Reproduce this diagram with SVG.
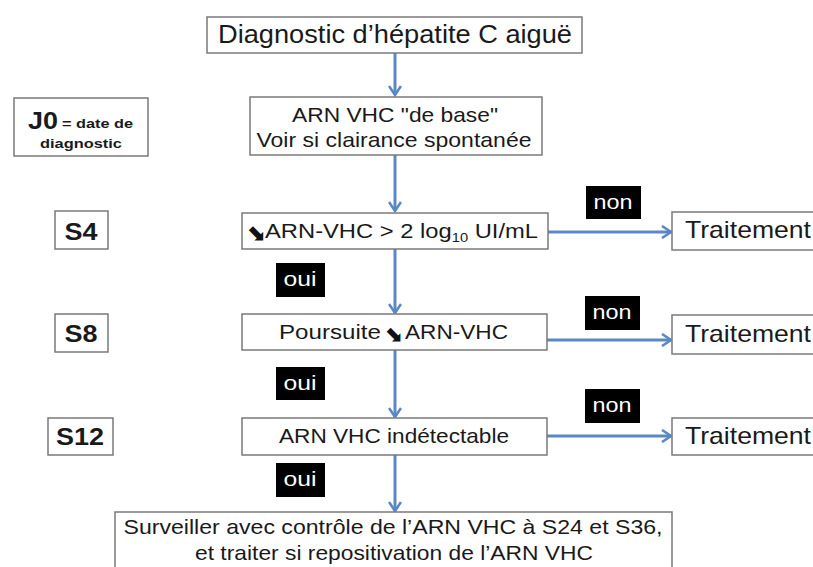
<svg xmlns="http://www.w3.org/2000/svg" width="813" height="567" viewBox="0 0 813 567">
<defs>
<style>
.box{fill:#fff;stroke:#7a7a7a;stroke-width:1.5}
.tag{fill:#000}
.t{font-family:"Liberation Sans Narrow","Liberation Sans",Arial,sans-serif;fill:#1a1a1a}
.b{font-weight:bold}
.w{fill:#fff;font-family:"Liberation Sans Narrow","Liberation Sans",Arial,sans-serif}
.c{stroke:#5b88c4;stroke-width:3;fill:none}
.ar{font-family:"DejaVu Sans",sans-serif;font-weight:bold;fill:#111}
</style>
<marker id="ah" markerWidth="14" markerHeight="14" refX="11" refY="7" orient="auto" markerUnits="userSpaceOnUse">
<polyline points="2,1 11,7 2,13" fill="none" stroke="#5b88c4" stroke-width="2.6"/>
</marker>
</defs>
<rect width="813" height="567" fill="#fff"/>
<g id="connectors">
<line class="c" x1="395" y1="53" x2="395" y2="95" marker-end="url(#ah)"/>
<line class="c" x1="395" y1="155" x2="395" y2="211" marker-end="url(#ah)"/>
<line class="c" x1="395" y1="249" x2="395" y2="313" marker-end="url(#ah)"/>
<line class="c" x1="395" y1="350" x2="395" y2="417" marker-end="url(#ah)"/>
<line class="c" x1="395" y1="455" x2="395" y2="511" marker-end="url(#ah)"/>
<line class="c" x1="548" y1="232" x2="671" y2="232" marker-end="url(#ah)"/>
<line class="c" x1="547" y1="340" x2="671" y2="340" marker-end="url(#ah)"/>
<line class="c" x1="547" y1="436" x2="671" y2="436" marker-end="url(#ah)"/>
</g>
<g id="diag">
<rect class="box" x="207" y="17" width="375" height="36"/>
<text class="t" x="395" y="43" font-size="25" text-anchor="middle" textLength="354" lengthAdjust="spacingAndGlyphs">Diagnostic d’hépatite C aiguë</text>
</g>
<g id="j0">
<rect class="box" x="14" y="98" width="134" height="58"/>
<text class="t b" x="28" y="129" font-size="24" textLength="30" lengthAdjust="spacingAndGlyphs">J0</text>
<text class="t b" x="62" y="128" font-size="13" textLength="71" lengthAdjust="spacingAndGlyphs">= date de</text>
<text class="t b" x="81" y="148" font-size="13" text-anchor="middle" textLength="82" lengthAdjust="spacingAndGlyphs">diagnostic</text>
</g>
<g id="base">
<rect class="box" x="250" y="97" width="292" height="58"/>
<text class="t" x="395" y="122" font-size="21" text-anchor="middle" textLength="206" lengthAdjust="spacingAndGlyphs">ARN VHC "de base"</text>
<text class="t" x="394" y="147" font-size="21" text-anchor="middle" textLength="275" lengthAdjust="spacingAndGlyphs">Voir si clairance spontanée</text>
</g>
<g id="s4">
<rect class="box" x="55" y="211" width="53" height="38"/>
<text class="t b" x="81" y="240" font-size="24" text-anchor="middle" textLength="33" lengthAdjust="spacingAndGlyphs">S4</text>
</g>
<g id="cond4">
<rect class="box" x="242" y="213" width="306" height="36"/>
<text class="ar" x="246" y="240" font-size="23">⬊</text>
<text class="t" x="265" y="238" font-size="21" textLength="273" lengthAdjust="spacingAndGlyphs">ARN-VHC &gt; 2 log<tspan font-size="13" dy="4">10</tspan><tspan dy="-4"> UI/mL</tspan></text>
</g>
<g id="non1">
<rect class="tag" x="586" y="186" width="55" height="33"/>
<text class="w" x="613" y="209" font-size="21" text-anchor="middle" textLength="39" lengthAdjust="spacingAndGlyphs">non</text>
</g>
<g id="trait1">
<rect class="box" x="672" y="212" width="145" height="38"/>
<text class="t" x="685" y="238" font-size="24" textLength="126" lengthAdjust="spacingAndGlyphs">Traitement</text>
</g>
<g id="oui1">
<rect class="tag" x="276" y="263" width="49" height="34"/>
<text class="w" x="300" y="286" font-size="21" text-anchor="middle" textLength="33" lengthAdjust="spacingAndGlyphs">oui</text>
</g>
<g id="s8">
<rect class="box" x="55" y="314" width="53" height="38"/>
<text class="t b" x="81" y="342" font-size="24" text-anchor="middle" textLength="33" lengthAdjust="spacingAndGlyphs">S8</text>
</g>
<g id="cond8">
<rect class="box" x="242" y="314" width="305" height="36"/>
<text class="t" x="279" y="339" font-size="21" textLength="102" lengthAdjust="spacingAndGlyphs">Poursuite</text>
<text class="ar" x="384" y="341" font-size="22">⬊</text>
<text class="t" x="405" y="339" font-size="21" textLength="103" lengthAdjust="spacingAndGlyphs">ARN-VHC</text>
</g>
<g id="non2">
<rect class="tag" x="585" y="296" width="55" height="34"/>
<text class="w" x="612" y="319" font-size="21" text-anchor="middle" textLength="39" lengthAdjust="spacingAndGlyphs">non</text>
</g>
<g id="trait2">
<rect class="box" x="672" y="315" width="145" height="39"/>
<text class="t" x="685" y="342" font-size="24" textLength="126" lengthAdjust="spacingAndGlyphs">Traitement</text>
</g>
<g id="oui2">
<rect class="tag" x="276" y="367" width="49" height="33"/>
<text class="w" x="300" y="390" font-size="21" text-anchor="middle" textLength="33" lengthAdjust="spacingAndGlyphs">oui</text>
</g>
<g id="s12">
<rect class="box" x="48" y="418" width="65" height="37"/>
<text class="t b" x="80" y="445" font-size="24" text-anchor="middle" textLength="48" lengthAdjust="spacingAndGlyphs">S12</text>
</g>
<g id="cond12">
<rect class="box" x="242" y="418" width="305" height="37"/>
<text class="t" x="394" y="443" font-size="21" text-anchor="middle" textLength="230" lengthAdjust="spacingAndGlyphs">ARN VHC indétectable</text>
</g>
<g id="non3">
<rect class="tag" x="585" y="389" width="55" height="34"/>
<text class="w" x="612" y="412" font-size="21" text-anchor="middle" textLength="39" lengthAdjust="spacingAndGlyphs">non</text>
</g>
<g id="trait3">
<rect class="box" x="672" y="418" width="145" height="37"/>
<text class="t" x="685" y="444" font-size="24" textLength="126" lengthAdjust="spacingAndGlyphs">Traitement</text>
</g>
<g id="oui3">
<rect class="tag" x="276" y="463" width="49" height="34"/>
<text class="w" x="300" y="486" font-size="21" text-anchor="middle" textLength="33" lengthAdjust="spacingAndGlyphs">oui</text>
</g>
<g id="surv">
<rect class="box" x="115" y="512" width="557" height="60"/>
<text class="t" x="393" y="534" font-size="21" text-anchor="middle" textLength="539" lengthAdjust="spacingAndGlyphs">Surveiller avec contrôle de l’ARN VHC à S24 et S36,</text>
<text class="t" x="394" y="560" font-size="21" text-anchor="middle" textLength="398" lengthAdjust="spacingAndGlyphs">et traiter si repositivation de l’ARN VHC</text>
</g>
</svg>
